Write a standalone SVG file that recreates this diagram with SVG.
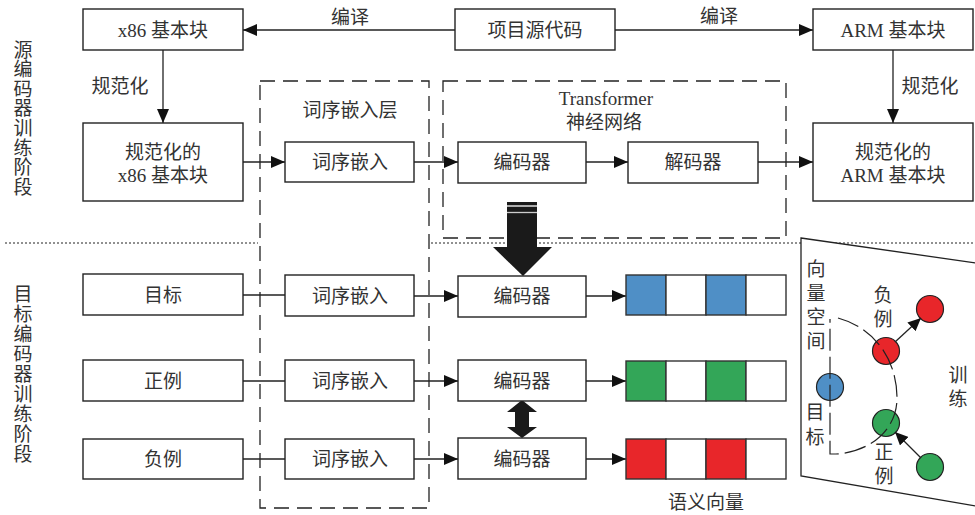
<svg xmlns="http://www.w3.org/2000/svg" width="975" height="515" viewBox="0 0 975 515">
<style>
text{font-family:"Liberation Serif","Noto Sans CJK SC",serif;font-size:19px;fill:#333;text-anchor:middle;dominant-baseline:central}
.box{fill:#fff;stroke:#222;stroke-width:1.4}
.ln{fill:none;stroke:#222;stroke-width:1.3}
.dash{fill:none;stroke:#222;stroke-width:1.3;stroke-dasharray:15 8}
.dot{fill:none;stroke:#222;stroke-width:1;stroke-dasharray:2 2}
.cell{stroke:#333;stroke-width:1.4}
.b{fill:#4F8FC6}.g{fill:#33A658}.r{fill:#E8262A}.w{fill:#fff}
.pt{stroke:#222;stroke-width:1.2}
</style>
<defs>
<marker id="ah" markerUnits="userSpaceOnUse" markerWidth="14" markerHeight="12" refX="14" refY="6" orient="auto">
<path d="M0,0 L14,6 L0,12 z" fill="#111"/>
</marker>
<marker id="ahs" markerUnits="userSpaceOnUse" markerWidth="13" markerHeight="12" refX="13" refY="6" orient="auto">
<path d="M0,0 L13,6 L0,12 z" fill="#111"/>
</marker>
</defs>

<g id="stage-labels">
<text x="23" y="50">源</text><text x="23" y="69.6">编</text><text x="23" y="89.2">码</text><text x="23" y="108.8">器</text><text x="23" y="128.4">训</text><text x="23" y="148">练</text><text x="23" y="167.6">阶</text><text x="23" y="187.2">段</text>
<text x="23" y="294">目</text><text x="23" y="314">标</text><text x="23" y="334">编</text><text x="23" y="354">码</text><text x="23" y="374">器</text><text x="23" y="394">训</text><text x="23" y="414">练</text><text x="23" y="434">阶</text><text x="23" y="454">段</text>
</g>

<g id="separators">
<line class="dot" x1="5" y1="243" x2="258" y2="243"/>
<line class="dot" x1="431" y1="243" x2="975" y2="243"/>
</g>

<g id="embed-layer">
<rect class="dash" x="260" y="81" width="169" height="427"/>
<text x="350" y="110">词序嵌入层</text>
</g>
<g id="transformer">
<rect class="dash" x="443" y="81" width="343" height="157"/>
<text x="606" y="98">Transformer</text>
<text x="604" y="122">神经网络</text>
</g>

<g id="connectors">
<line class="ln" x1="455" y1="30" x2="243" y2="30" marker-end="url(#ah)"/>
<line class="ln" x1="615" y1="30" x2="813" y2="30" marker-end="url(#ah)"/>
<line class="ln" x1="163" y1="50" x2="163" y2="123" marker-end="url(#ah)"/>
<line class="ln" x1="893" y1="50" x2="893" y2="123" marker-end="url(#ah)"/>
<line class="ln" x1="243" y1="162" x2="285" y2="162" marker-end="url(#ah)"/>
<line class="ln" x1="414" y1="162" x2="458" y2="162" marker-end="url(#ah)"/>
<line class="ln" x1="586" y1="162" x2="628" y2="162" marker-end="url(#ah)"/>
<line class="ln" x1="758" y1="162" x2="813" y2="162" marker-end="url(#ah)"/>
<line class="ln" x1="243" y1="295" x2="285" y2="295"/>
<line class="ln" x1="243" y1="381" x2="285" y2="381"/>
<line class="ln" x1="243" y1="459" x2="285" y2="459"/>
<line class="ln" x1="414" y1="296" x2="458" y2="296" marker-end="url(#ah)"/>
<line class="ln" x1="414" y1="381" x2="458" y2="381" marker-end="url(#ah)"/>
<line class="ln" x1="414" y1="459" x2="458" y2="459" marker-end="url(#ah)"/>
<line class="ln" x1="586" y1="296" x2="626" y2="296" marker-end="url(#ah)"/>
<line class="ln" x1="586" y1="381" x2="626" y2="381" marker-end="url(#ah)"/>
<line class="ln" x1="586" y1="459" x2="626" y2="459" marker-end="url(#ah)"/>
<text x="350" y="17">编译</text>
<text x="719" y="16">编译</text>
<text x="120" y="86">规范化</text>
<text x="930" y="86">规范化</text>
<g id="big-arrow">
<rect x="507" y="202" width="30" height="46" fill="#1a1a1a"/>
<line x1="507" y1="206" x2="537" y2="206" stroke="#fff" stroke-width="1.3"/>
<line x1="507" y1="212.5" x2="537" y2="212.5" stroke="#ccc" stroke-width="1.3"/>
<polygon points="493,247 552,247 523,276" fill="#1a1a1a"/>
</g>
<polygon id="double-arrow" points="522,400 537,412 529,412 529,427 537,427 522,438 507,427 515,427 515,412 507,412" fill="#1a1a1a"/>
</g>

<g id="x86"><rect class="box" x="83" y="9" width="160" height="41"/><text x="163" y="30">x86 基本块</text></g>
<g id="src"><rect class="box" x="455" y="9" width="160" height="41"/><text x="535" y="30">项目源代码</text></g>
<g id="arm"><rect class="box" x="813" y="9" width="160" height="41"/><text x="893" y="30">ARM 基本块</text></g>
<g id="norm-x86"><rect class="box" x="83" y="123" width="160" height="78"/><text x="163" y="152">规范化的</text><text x="163" y="175">x86 基本块</text></g>
<g id="norm-arm"><rect class="box" x="813" y="123" width="160" height="78"/><text x="893" y="152">规范化的</text><text x="893" y="175">ARM 基本块</text></g>
<g id="emb-top"><rect class="box" x="285" y="142" width="129" height="40"/><text x="350" y="162">词序嵌入</text></g>
<g id="enc-top"><rect class="box" x="458" y="142" width="128" height="41"/><text x="522" y="162">编码器</text></g>
<g id="dec-top"><rect class="box" x="628" y="142" width="130" height="41"/><text x="693" y="162">解码器</text></g>

<g id="target"><rect class="box" x="83" y="274" width="160" height="41"/><text x="163" y="295">目标</text></g>
<g id="positive"><rect class="box" x="83" y="360" width="160" height="41"/><text x="163" y="381">正例</text></g>
<g id="negative"><rect class="box" x="83" y="439" width="160" height="40"/><text x="163" y="459">负例</text></g>
<g id="emb-1"><rect class="box" x="285" y="275" width="129" height="41"/><text x="350" y="296">词序嵌入</text></g>
<g id="emb-2"><rect class="box" x="285" y="360" width="129" height="41"/><text x="350" y="381">词序嵌入</text></g>
<g id="emb-3"><rect class="box" x="285" y="439" width="129" height="40"/><text x="350" y="459">词序嵌入</text></g>
<g id="enc-1"><rect class="box" x="458" y="276" width="128" height="41"/><text x="522" y="296">编码器</text></g>
<g id="enc-2"><rect class="box" x="458" y="360" width="128" height="41"/><text x="522" y="381">编码器</text></g>
<g id="enc-3"><rect class="box" x="458" y="438" width="128" height="41"/><text x="522" y="459">编码器</text></g>

<g id="vec-1">
<rect class="cell b" x="626" y="275" width="40" height="40"/><rect class="cell w" x="666" y="275" width="40" height="40"/><rect class="cell b" x="706" y="275" width="40" height="40"/><rect class="cell w" x="746" y="275" width="40" height="40"/>
</g>
<g id="vec-2">
<rect class="cell g" x="626" y="361" width="40" height="40"/><rect class="cell w" x="666" y="361" width="40" height="40"/><rect class="cell g" x="706" y="361" width="40" height="40"/><rect class="cell w" x="746" y="361" width="40" height="40"/>
</g>
<g id="vec-3">
<rect class="cell r" x="626" y="439" width="40" height="40"/><rect class="cell w" x="666" y="439" width="40" height="40"/><rect class="cell r" x="706" y="439" width="40" height="40"/><rect class="cell w" x="746" y="439" width="40" height="40"/>
</g>
<text x="706" y="502">语义向量</text>

<g id="vector-space">
<polygon points="801,238 976,263 976,506 801,476" fill="#fff" stroke="#222" stroke-width="1.3"/>
<text x="816" y="269">向</text><text x="816" y="293">量</text><text x="816" y="317">空</text><text x="816" y="341">间</text>
<text x="815" y="412">目</text><text x="815" y="437">标</text>
<text x="883" y="295">负</text><text x="883" y="319">例</text>
<text x="884" y="452">正</text><text x="884" y="476">例</text>
<text x="958" y="375">训</text><text x="958" y="399">练</text>
<circle class="pt b" cx="830" cy="387" r="13.5"/>
<circle class="pt r" cx="886" cy="351" r="13.5"/>
<circle class="pt r" cx="930" cy="309" r="13.5"/>
<circle class="pt g" cx="886" cy="423" r="13.5"/>
<circle class="pt g" cx="930" cy="467" r="13.5"/>
<path d="M838,318 C875,328 897,360 897,398 C897,430 870,452 836,454 L830,454 L830,319" fill="none" stroke="#222" stroke-width="1.2" stroke-dasharray="22 6"/>
<line class="ln" x1="895" y1="342" x2="921" y2="318" marker-end="url(#ahs)"/>
<line class="ln" x1="921" y1="458" x2="895" y2="432" marker-end="url(#ahs)"/>
</g>
</svg>
